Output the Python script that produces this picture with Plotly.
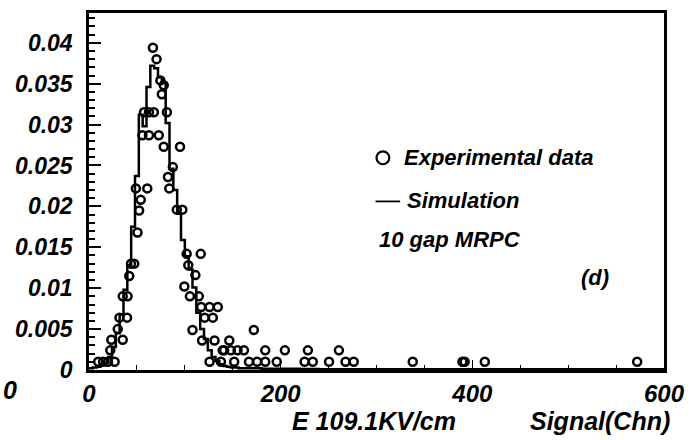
import plotly.graph_objects as go

# Experimental data (open circles)
exp_x = [9.6, 14.7, 19.8, 26.7, 22.2, 23.3, 35.2, 30.0, 31.8, 39.7,
         35.2, 40.3, 42.0, 43.8, 47.2, 50.6, 52.3, 54.0, 48.9, 60.8,
         55.7, 62.6, 72.8, 57.4, 62.6, 67.7, 81.3,
         66.7, 70.5, 74.5, 78.0, 76.0,
         82.4, 83.8, 87.5, 78.0, 95.0,
         91.6, 97.4, 101.9, 116.6, 103.6, 111.0, 99.5,
         105.3, 114.6, 117.0, 125.8, 134.4,
         120.7, 129.2, 108.0, 172.0,
         118.0, 131.0, 146.4,
         139.5, 141.0, 148.0, 155.0, 161.7, 183.9, 204.4, 228.4, 260.8,
         125.8, 137.7, 151.5, 166.9, 175.4, 183.9, 195.9, 225.0, 233.5,
         250.5, 267.7, 276.2, 337.8, 389.7, 392.0, 413.0, 572.0]
exp_y = [0.001, 0.001, 0.001, 0.001, 0.0024, 0.0037, 0.0037, 0.005, 0.0064, 0.0064,
         0.009, 0.009, 0.0115, 0.013, 0.013, 0.0168, 0.0195, 0.0208, 0.0222, 0.0222,
         0.0287, 0.0287, 0.0287, 0.0315, 0.0315, 0.0315, 0.0315,
         0.0394, 0.038, 0.0354, 0.0348, 0.0337,
         0.0236, 0.0222, 0.0248, 0.0273, 0.0273,
         0.0196, 0.0196, 0.0142, 0.0142, 0.0128, 0.0116, 0.0102,
         0.009, 0.009, 0.0077, 0.0077, 0.0077,
         0.0064, 0.0064, 0.0049, 0.0049,
         0.0036, 0.0036, 0.0036,
         0.0024, 0.0024, 0.0024, 0.0024, 0.0024, 0.0024, 0.0024, 0.0024, 0.0024,
         0.001, 0.001, 0.001, 0.001, 0.001, 0.001, 0.001, 0.001, 0.001,
         0.001, 0.001, 0.001, 0.001, 0.001, 0.001, 0.001, 0.001]

# Simulation histogram (bin edges and contents)
sim_edges = [0, 4, 8, 12, 16, 20, 24, 28, 32, 36, 40, 44, 48, 52, 56, 60, 64, 68, 72, 76,
             80, 84, 88, 92, 96, 100, 104, 108, 112, 116, 120, 124, 128, 132, 136, 140,
             144, 148, 152, 156, 160, 180, 200, 220, 240, 260, 280, 300, 320, 340, 360,
             380, 400, 420, 440, 460, 480, 500, 520, 540, 560, 580, 600]
sim_vals = [0.0002, 0.0003, 0.0004, 0.0006, 0.0009, 0.0016, 0.0028, 0.0045, 0.0068, 0.0098,
            0.0128, 0.0175, 0.0237, 0.0312, 0.0298, 0.0346, 0.0372, 0.0369, 0.0358, 0.0351,
            0.0302, 0.0246, 0.022, 0.0191, 0.0159, 0.0139, 0.0123, 0.0101, 0.007, 0.005,
            0.0038, 0.0024, 0.0016, 0.0011, 0.0007, 0.0005, 0.0004, 0.0003, 0.0003, 0.0002,
            0.0002, 0.00015, 0.00015, 0.00012, 0.0001, 0.0001, 0.0001, 0.0001, 0.0001, 0.0001,
            0.0001, 0.0001, 0.0001, 0.0001, 0.0001, 0.0001, 0.0001, 0.0001, 0.0001, 0.0001,
            0.0001, 0.0001]

x_ticks = [0, 200, 400, 600]
y_ticks = [0, 0.005, 0.01, 0.015, 0.02, 0.025, 0.03, 0.035, 0.04]
y_ticklabels = ["0", "0.005", "0.01", "0.015", "0.02", "0.025", "0.03", "0.035", "0.04"]

FONT = "Liberation Sans, Arial, sans-serif"

fig = go.Figure()

fig.add_trace(go.Scatter(
    x=sim_edges, y=sim_vals + [sim_vals[-1]],
    mode="lines", line=dict(color="black", width=2.5, shape="hv"),
    showlegend=False, hoverinfo="skip"))

fig.add_trace(go.Scatter(
    x=exp_x, y=exp_y, mode="markers",
    marker=dict(symbol="circle-open", size=8, color="black", line=dict(width=2.5, color="black")),
    showlegend=False))

tickfont_y = dict(family=FONT, size=23, color="black", weight="bold", style="italic")
tickfont_x = dict(family=FONT, size=24, color="black", weight="bold", style="italic")

fig.update_xaxes(range=[0, 600], tickvals=x_ticks, ticktext=[str(v) for v in x_ticks],
                 ticks="inside", ticklen=10, tickwidth=1, tickcolor="black",
                 minor=dict(dtick=50, ticks="inside", ticklen=5, tickcolor="black"),
                 showline=True, linewidth=3, linecolor="black", mirror=True,
                 showgrid=False, zeroline=False, tickfont=tickfont_x)
fig.update_yaxes(range=[0, 0.04364], tickvals=y_ticks, ticktext=y_ticklabels,
                 ticks="inside", ticklen=12, tickwidth=1.5, tickcolor="black",
                 minor=dict(dtick=0.001, ticks="inside", ticklen=6, tickcolor="black"),
                 showline=True, linewidth=2.5, linecolor="black", mirror=True,
                 showgrid=False, zeroline=False, tickfont=tickfont_y,
                 ticklabelstandoff=9)

L, R, T, B = 89, 22, 10, 70
W, H = 695, 440
pw, ph = W - L - R, H - T - B

def px(xp):
    return (xp - L) / pw

def py(yp):
    return (H - B - yp) / ph

lf = dict(family=FONT, size=22, color="black", weight="bold", style="italic")
tf = dict(family=FONT, size=25, color="black", weight="bold", style="italic")
ann = [
    dict(text="Experimental data", x=px(407), y=py(156), xanchor="left", yanchor="middle", font=lf),
    dict(text="Simulation", x=px(410), y=py(199), xanchor="left", yanchor="middle", font=lf),
    dict(text="10 gap MRPC", x=px(381), y=py(238), xanchor="left", yanchor="middle", font=lf),
    dict(text="(d)", x=px(619), y=py(277), xanchor="right", yanchor="middle", font=lf),
    dict(text="E 109.1KV/cm", x=px(293), y=py(421), xanchor="left", yanchor="middle", font=tf),
    dict(text="Signal(Chn)", x=px(681), y=py(421), xanchor="right", yanchor="middle", font=tf),
    dict(text="0", x=px(9), y=py(390), xanchor="center", yanchor="middle", font=tf),
]
for a in ann:
    a.update(xref="paper", yref="paper", showarrow=False)

shapes = [
    dict(type="circle", xref="paper", yref="paper",
         x0=px(381), x1=px(394), y0=py(162.5), y1=py(149.5),
         line=dict(color="black", width=2.2)),
    dict(type="line", xref="paper", yref="paper",
         x0=px(380), x1=px(405), y0=py(200), y1=py(200),
         line=dict(color="black", width=1.8)),
]

fig.update_layout(width=W, height=H, margin=dict(l=L, r=R, t=T, b=B),
                  paper_bgcolor="white", plot_bgcolor="white",
                  annotations=ann, shapes=shapes, showlegend=False)

fig.write_html("out.html")
